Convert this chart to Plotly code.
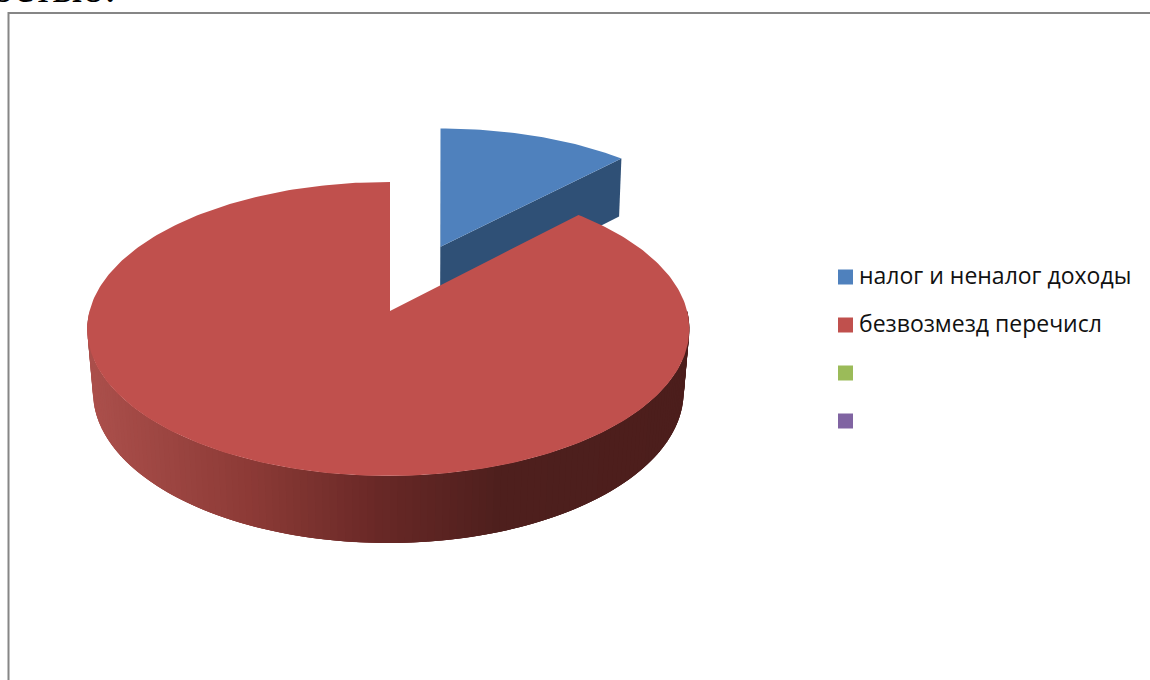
import numpy as np
import plotly.graph_objects as go

# Slice data
categories = ["налог и неналог доходы", "безвозмезд перечисл", "", ""]
shares = [12.1, 87.9, 0, 0]
legend_colors = ["#4F81BD", "#C0504D", "#9BBB59", "#8064A2"]
heading_tail = "остью:"

# Projection of the tilted disc onto the page
cx, cy = 390.0, 311.0
k, m, a, b = 0.1224, 0.0055, 298.8, 144.8
sy_bottom, vy = 1.0283, -1891.0
red_sx_bottom = 0.981
blue_sx_bottom = 0.99
blue_dx, blue_dv = 50.5, -0.47
blue_scale_x, blue_scale_y = 1.012, 1.02


def project(u, v):
    u, v = np.asarray(u, float), np.asarray(v, float)
    w = 1 - k * v + m * u
    return cx + a * u / w, cy + b * v / w


def drop(x, y, sx):
    return 388.5 + sx * (np.asarray(x) - 388.5), vy + sy_bottom * (np.asarray(y) - vy)


def red_arc(t0, t1, n):
    t = np.radians(np.linspace(t0, t1, n))
    return project(np.sin(t), -np.cos(t))


def blue_arc(t0, t1, n):
    t = np.radians(np.linspace(t0, t1, n))
    x, _ = project(blue_scale_x * np.sin(t), blue_dv - blue_scale_y * np.cos(t))
    _, y = project(0 * t, blue_dv - blue_scale_y * np.cos(t))
    return x + blue_dx, y


def poly(x, y, color):
    x, y = list(map(float, x)), list(map(float, y))
    return go.Scatter(x=x + [x[0]], y=y + [y[0]], mode="lines", fill="toself",
                      fillcolor=color, line=dict(width=0),
                      hoverinfo="skip", showlegend=False)


def wall_color(x):
    xs = [85, 250, 380, 500, 700]
    rs = [172, 140, 104, 78, 76]
    gs = [80, 58, 40, 31, 30]
    bs = [76, 54, 38, 29, 28]
    return f"rgb({np.interp(x, xs, rs):.0f},{np.interp(x, xs, gs):.0f},{np.interp(x, xs, bs):.0f})"


fig = go.Figure()
blue_sweep = 360 * shares[0] / sum(shares)

# Exploded blue slice: cut faces first, then its top
ax, ay = cx + blue_dx, float(project(0.0, blue_dv)[1])
ex, ey = blue_arc(blue_sweep, blue_sweep, 1)
sx, sy = blue_arc(0, 0, 1)
for ox, oy in ((ex[0], ey[0]), (sx[0], sy[0])):
    bx, by = drop([ax, ox], [ay, oy], blue_sx_bottom)
    fig.add_trace(poly([ax, ox, bx[1], bx[0]], [ay, oy, by[1], by[0]], "#2F5076"))
bx_arc, by_arc = blue_arc(0, blue_sweep, 40)
fig.add_trace(poly(np.r_[ax, bx_arc], np.r_[ay, by_arc], legend_colors[0]))

# Red slice: shaded outer wall painted left to right in overlapping strips, then its top
rim = np.linspace(270, 90, 141)
for i in range(len(rim) - 1):
    t_end = rim[min(i + 3, len(rim) - 1)]
    tx, ty = red_arc(rim[i], t_end, 5)
    lx, ly = drop(tx, ty, red_sx_bottom)
    mid_x = float(red_arc(rim[i], rim[i + 1], 2)[0].mean())
    fig.add_trace(poly(np.r_[tx, lx[::-1]], np.r_[ty, ly[::-1]], wall_color(mid_x)))
rx_arc, ry_arc = red_arc(blue_sweep, 360, 300)
fig.add_trace(poly(np.r_[cx, rx_arc], np.r_[cy, ry_arc], legend_colors[1]))

# Chart frame, running off the page on the right and at the bottom
fig.add_trace(go.Scatter(x=[8.5, 8.5, 1160], y=[700, 13, 13], mode="lines",
                         line=dict(color="#868686", width=2), hoverinfo="skip", showlegend=False))

# Legend
legend_y = [277, 325, 373, 421]
fig.add_trace(go.Scatter(x=[845.5] * 4, y=legend_y, mode="markers",
                         marker=dict(symbol="square", size=15, color=legend_colors, line=dict(width=0)),
                         hoverinfo="skip", showlegend=False))
fig.add_trace(go.Scatter(x=[859] * 4, y=[y + 1 for y in legend_y], mode="text", text=categories,
                         textposition="middle right",
                         textfont=dict(family="Open Sans", size=23, color="#111111"),
                         hoverinfo="skip", showlegend=False))

# Tail of the body text line above the frame, cut by the page edge
fig.add_annotation(x=0, y=0, xref="paper", yref="y", text=heading_tail, showarrow=False,
                   xanchor="left", yanchor="bottom", xshift=-10, yshift=-12.5,
                   font=dict(family="Liberation Serif", size=43, color="#000000"))

fig.update_layout(width=1150, height=680, margin=dict(l=0, r=0, t=0, b=0),
                  paper_bgcolor="white", plot_bgcolor="white",
                  xaxis=dict(range=[0, 1150], visible=False, fixedrange=True),
                  yaxis=dict(range=[680, 0], visible=False, fixedrange=True))
fig.write_html("out.html")
